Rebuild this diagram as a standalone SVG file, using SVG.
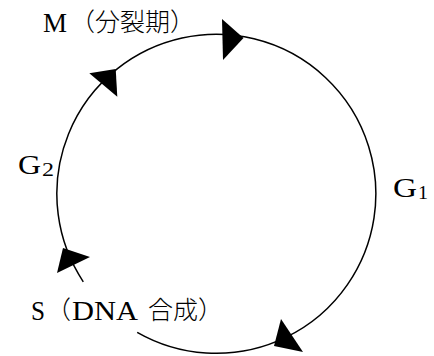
<svg xmlns="http://www.w3.org/2000/svg" width="434" height="356" viewBox="0 0 434 356">
<style>
.t{font-family:'Liberation Serif','Noto Sans CJK JP',serif;font-size:28px;fill:#000}
.c{font-family:'Noto Sans CJK JP',sans-serif;font-size:25px;font-weight:300}
.sub{font-size:19px}
.arc{fill:none;stroke:#000;stroke-width:1.5}
.ah{fill:#000;stroke:none}
</style>
<g id="connectors">
<path class="arc" d="M 83.3 281.8 A 159.5 159.5 0 1 1 137.2 332.3"/>
<polygon class="ah" points="222,19 223,60 243.5,38"/>
<polygon class="ah" points="89.3,73.3 117.3,96.7 115.7,69"/>
<polygon class="ah" points="281,319 303,352 274,346"/>
<polygon class="ah" points="57,273 90,257 63,248"/>
</g>
<g id="M">
<text class="t" x="43" y="32" textLength="24" lengthAdjust="spacingAndGlyphs">M</text>
<text class="t c" x="70" y="31">（分裂期）</text>
</g>
<g id="G2">
<text class="t" x="18" y="174" textLength="23" lengthAdjust="spacingAndGlyphs">G</text>
<text class="t sub" x="42" y="176" textLength="12" lengthAdjust="spacingAndGlyphs">2</text>
</g>
<g id="G1">
<text class="t" x="393" y="197" textLength="24" lengthAdjust="spacingAndGlyphs">G</text>
<text class="t sub" x="418" y="199" textLength="10" lengthAdjust="spacingAndGlyphs">1</text>
</g>
<g id="S">
<text class="t" x="31" y="320" textLength="14" lengthAdjust="spacingAndGlyphs">S</text>
<text class="t c" x="46" y="319">（</text>
<text class="t" x="72" y="320" textLength="66" lengthAdjust="spacingAndGlyphs">DNA</text>
<text class="t c" x="148" y="319">合成）</text>
</g>
</svg>
